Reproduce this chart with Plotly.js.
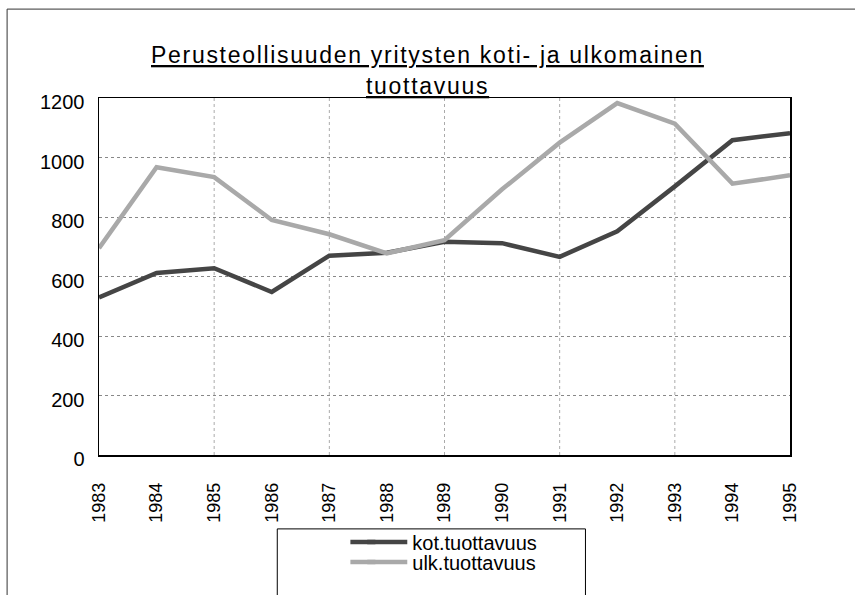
<!DOCTYPE html>
<html>
<head>
<meta charset="utf-8">
<script src="https://cdn.plot.ly/plotly-3.0.1.min.js"></script>
<style>html,body{margin:0;padding:0;background:#fff;}#chart{width:855px;height:595px;}
.annotation-text{letter-spacing:1.7px;}</style>
</head>
<body>
<div id="chart"></div>
<script>
const years = [1983,1984,1985,1986,1987,1988,1989,1990,1991,1992,1993,1994,1995];
const kotTuottavuus = [530,612,628,548,670,680,717,712,666,752,903,1058,1082];
const ulkTuottavuus = [695,967,934,790,742,678,722,893,1050,1183,1114,912,940];
const vGridYears = [1985,1987,1989,1991,1993];
const yTicks = [0,200,400,600,800,1000,1200];
const titleLines = ['Perusteollisuuden yritysten koti- ja ulkomainen', 'tuottavuus'];
const kotColor = '#454545', ulkColor = '#a9a9a9';

const traces = [
  {x: years, y: kotTuottavuus, name: 'kot.tuottavuus', type: 'scatter', mode: 'lines',
   line: {color: kotColor, width: 4.5}, legend: 'legend'},
  {x: years, y: ulkTuottavuus, name: 'ulk.tuottavuus', type: 'scatter', mode: 'lines',
   line: {color: ulkColor, width: 4.5}, legend: 'legend2'}
];

const shapes = vGridYears.map(v => ({type:'line', xref:'x', yref:'paper', x0:v, x1:v, y0:0, y1:1,
  line:{color:'#aaa', width:1, dash:'dot'}, layer:'below'}));
// legend box
shapes.push({type:'rect', xref:'paper', yref:'paper', x0:0.258, x1:0.704, y0:-0.45, y1:-0.207,
  line:{color:'#000', width:1}});
// longer legend samples
shapes.push({type:'line', xref:'paper', yref:'paper', x0:0.3638, x1:0.40, y0:-0.2437, y1:-0.2437,
  line:{color:kotColor, width:4.5}});
shapes.push({type:'line', xref:'paper', yref:'paper', x0:0.3638, x1:0.40, y0:-0.2997, y1:-0.2997,
  line:{color:ulkColor, width:4.5}});
// outer frame (left and top)
shapes.push({type:'path', xref:'paper', yref:'paper', path:'M -0.133,-0.5 L -0.133,1.249 L 1.1,1.249',
  line:{color:'#333', width:1}});

const annotations = [
  {text: '<u>' + titleLines[0] + '</u>', xref:'paper', yref:'paper', x:0.4754, y:1.1204,
   xanchor:'center', yanchor:'middle', showarrow:false, font:{size:23, color:'#000'}},
  {text: '<u>' + titleLines[1] + '</u>', xref:'paper', yref:'paper', x:0.4754, y:1.0336,
   xanchor:'center', yanchor:'middle', showarrow:false, font:{size:23, color:'#000'}}
];

const legendBase = {x: 0.381, xanchor: 'left', yanchor: 'middle', font: {size: 20},
  bgcolor: 'rgba(0,0,0,0)', borderwidth: 0, tracegroupgap: 0, itemwidth: 40};

const layout = {
  width: 855, height: 595,
  margin: {l: 99, r: 65, t: 98, b: 140},
  paper_bgcolor: '#fff', plot_bgcolor: '#fff',
  font: {family: '"Liberation Sans", Arial, sans-serif', color: '#000'},
  xaxis: {type: 'linear', range: [1983, 1995], tickvals: years, ticktext: years.map(String),
          tickangle: -90, tickfont: {size: 18}, ticklabelstandoff: 19, showgrid: false, zeroline: false,
          showline: true, linecolor: '#000', linewidth: 1.5, mirror: true, ticks: '', automargin: false},
  yaxis: {range: [0, 1200], tickvals: yTicks, tickfont: {size: 20}, ticklabelstandoff: 9,
          ticklabelshift: 4, showgrid: true,
          gridcolor: '#888', gridwidth: 1, griddash: 'dot', zeroline: false,
          showline: true, linecolor: '#000', linewidth: 1.5, mirror: true, ticks: '', automargin: false},
  showlegend: true,
  legend: Object.assign({}, legendBase, {y: -0.2437}),
  legend2: Object.assign({}, legendBase, {y: -0.2997}),
  annotations: annotations,
  shapes: shapes
};

Plotly.newPlot('chart', traces, layout, {displayModeBar: false, staticPlot: true});
</script>
</body>
</html>
